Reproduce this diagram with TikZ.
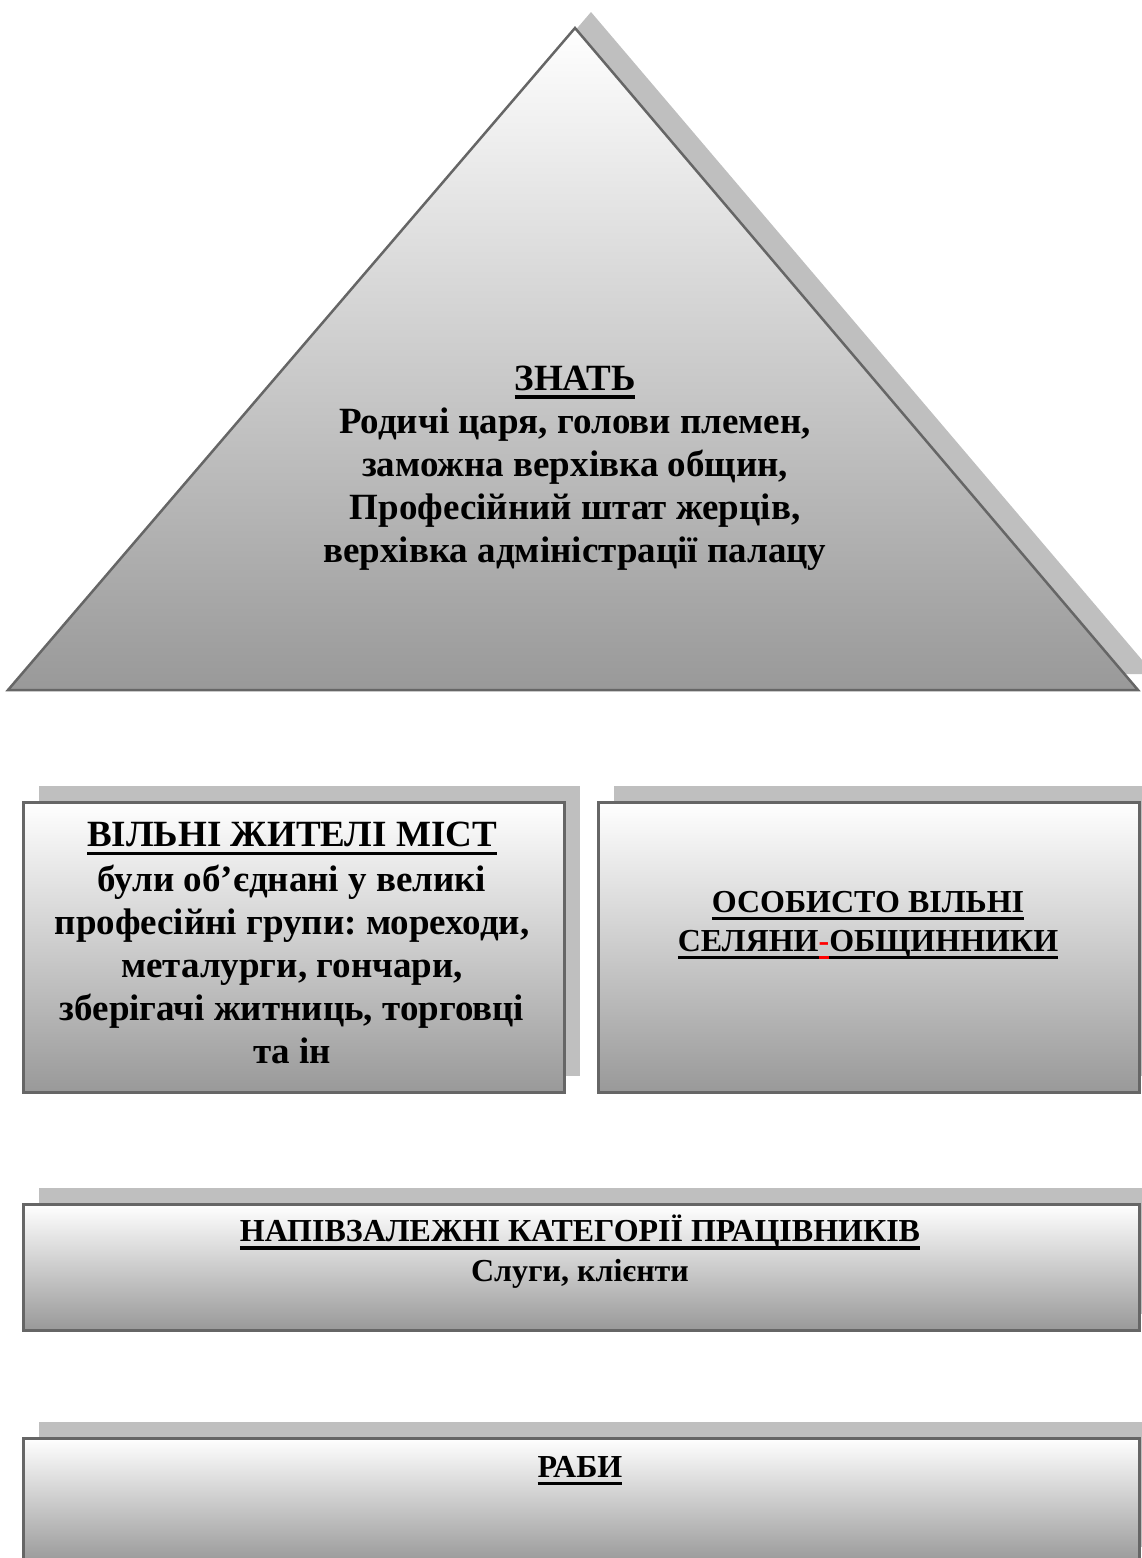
\documentclass[tikz,border=0pt]{standalone}
\usepackage{fontspec}
\setmainfont{Liberation Serif}
\frenchspacing
\usetikzlibrary{positioning,shadows}

% underlined heading, rule drawn in the colour in force
\newcommand{\ulhead}[1]{\setbox0\hbox{#1}\rlap{\rule[-0.24em]{\wd0}{0.1em}}\box0}
\newcommand{\fsz}[2]{\fontsize{#1}{#2}\selectfont\bfseries}

\begin{document}
\begin{tikzpicture}[
  x=1pt,y=-1pt,
  rim/.style={draw=black!60,line width=2.5pt},
  tier/.style={rim,top color=white,bottom color=black!40,inner sep=0pt,anchor=north west,
    general shadow={fill=black!25,shadow xshift=16pt,shadow yshift=16pt}},
  caption/.style={align=center,inner sep=0pt}
]
\useasboundingbox (0,0) rectangle (1141,1558);

% pyramid top
\coordinate (apex) at (575,28);
\coordinate (baseL) at (8,690);
\coordinate (baseR) at (1138,690);
\fill[black!25] ([shift={(16,-16)}]apex) -- ([shift={(16,-16)}]baseR) -- ([shift={(16,-16)}]baseL) -- cycle;
\draw[rim,top color=white,bottom color=black!40] (apex) -- (baseR) -- (baseL) -- cycle;
\node[caption,font=\fsz{37}{43}] (elite) at (575,468)
  {\ulhead{ЗНАТЬ}\\Родичі царя, голови племен,\\заможна верхівка общин,\\Професійний штат жерців,\\верхівка адміністрації палацу};

% middle tiers
\node[tier,minimum width=541pt,minimum height=290pt] (towns) at (22,801) {};
\node[tier,minimum width=541pt,minimum height=290pt] (farmers) at (597,801) {};
\node[caption,font=\fsz{37}{43}] (townstext) at (292,943)
  {\ulhead{ВІЛЬНІ ЖИТЕЛІ МІСТ}\\[2pt]були об’єднані у великі\\професійні групи: мореходи,\\металурги, гончари,\\зберігачі житниць, торговці\\та ін};
\node[caption,font=\fsz{32}{39}] (farmerstext) at (868,925)
  {\ulhead{ОСОБИСТО ВІЛЬНІ}\\\ulhead{СЕЛЯНИ}\textcolor{red}{\ulhead{-}}\ulhead{ОБЩИННИКИ}};

% lower tiers
\node[tier,minimum width=1116pt,minimum height=126pt] (serfs) at (22,1203) {};
\node[caption,font=\fsz{32}{40}] (serfstext) at (580,1252)
  {\ulhead{НАПІВЗАЛЕЖНІ КАТЕГОРІЇ ПРАЦІВНИКІВ}\\Слуги, клієнти};
\node[tier,minimum width=1116pt,minimum height=125pt] (slaves) at (22,1437) {};
\node[caption,font=\fsz{32}{36}] (slavestext) at (580,1471) {\ulhead{РАБИ}};
\end{tikzpicture}
\end{document}
